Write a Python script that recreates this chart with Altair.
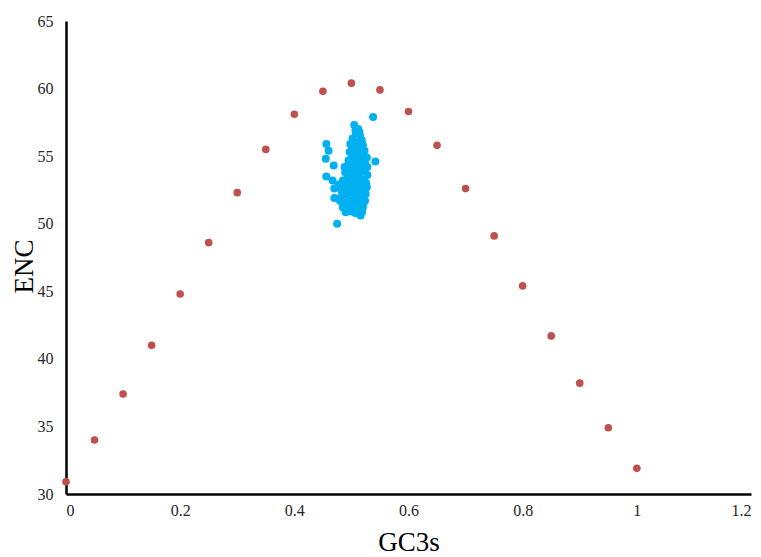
import altair as alt
import pandas as pd

# Expected ENC curve points (red)
gc3_expected = [0.0, 0.05, 0.1, 0.15, 0.2, 0.25, 0.3, 0.35, 0.4, 0.45, 0.5,
                0.55, 0.6, 0.65, 0.7, 0.75, 0.8, 0.85, 0.9, 0.95, 1.0]
enc_expected = [30.9, 34.0, 37.4, 41.0, 44.8, 48.6, 52.3, 55.5, 58.1, 59.8, 60.4,
                59.9, 58.3, 55.8, 52.6, 49.1, 45.4, 41.7, 38.2, 34.9, 31.9]

# Observed genes (blue)
gc3_observed = [0.505, 0.512, 0.508, 0.515, 0.502, 0.518, 0.510, 0.498, 0.520, 0.505,
                0.515, 0.523, 0.497, 0.510, 0.520, 0.527, 0.502, 0.495, 0.513, 0.524,
                0.505, 0.528, 0.493, 0.516, 0.500, 0.522, 0.489, 0.510, 0.528, 0.495,
                0.515, 0.503, 0.485, 0.523, 0.490, 0.510, 0.500, 0.527, 0.482, 0.517,
                0.493, 0.505, 0.525, 0.485, 0.512, 0.497, 0.520, 0.480, 0.505, 0.490,
                0.515, 0.498, 0.485, 0.508, 0.520, 0.493, 0.500, 0.512, 0.490, 0.538,
                0.542, 0.456, 0.460, 0.455, 0.469, 0.488, 0.456, 0.467, 0.470, 0.470,
                0.516, 0.475, 0.478, 0.483, 0.488, 0.495, 0.503, 0.509, 0.518, 0.524,
                0.507, 0.514, 0.519, 0.501, 0.511, 0.517, 0.506, 0.499, 0.513, 0.521,
                0.496, 0.508, 0.504, 0.514, 0.492, 0.487, 0.495, 0.502, 0.509, 0.518,
                0.483, 0.491, 0.499, 0.506, 0.513, 0.521, 0.487, 0.494, 0.502, 0.511,
                0.496, 0.504, 0.515, 0.480, 0.488, 0.498, 0.507, 0.519, 0.526, 0.509]
enc_observed = [57.3, 57.0, 56.7, 56.5, 56.3, 56.2, 56.0, 55.9, 55.8, 55.6,
                55.5, 55.4, 55.3, 55.2, 55.0, 54.9, 54.9, 54.7, 54.7, 54.5,
                54.4, 54.2, 54.3, 54.2, 54.0, 53.9, 53.8, 53.8, 53.6, 53.5,
                53.4, 53.3, 53.2, 53.2, 52.9, 52.9, 52.7, 52.7, 52.6, 52.5,
                52.4, 52.3, 52.2, 52.1, 52.0, 51.9, 51.8, 51.7, 51.6, 51.5,
                51.4, 51.3, 51.2, 51.1, 51.2, 51.0, 50.9, 50.9, 50.85, 57.9,
                54.6, 55.9, 55.4, 54.8, 54.3, 54.2, 53.5, 53.2, 52.6, 51.9,
                50.6, 50.0, 52.9, 51.6, 53.0, 52.6, 51.4, 53.1, 53.0, 51.7,
                56.9, 56.8, 55.9, 55.7, 55.7, 55.1, 55.0, 54.5, 54.4, 54.1,
                54.0, 53.9, 53.6, 53.7, 53.3, 53.0, 53.1, 52.9, 52.4, 52.3,
                52.4, 52.2, 52.0, 51.9, 51.7, 51.5, 51.5, 51.6, 51.4, 51.3,
                51.1, 51.0, 51.0, 51.9, 51.3, 51.2, 50.8, 50.9, 53.0, 53.5]

x_ticks = [0, 0.2, 0.4, 0.6, 0.8, 1, 1.2]
y_ticks = [30, 35, 40, 45, 50, 55, 60, 65]

df_exp = pd.DataFrame({"GC3s": gc3_expected, "ENC": enc_expected})
df_obs = pd.DataFrame({"GC3s": gc3_observed, "ENC": enc_observed})

x_enc = alt.X("GC3s:Q",
              scale=alt.Scale(domain=[0, 1.2], nice=False, zero=False),
              axis=alt.Axis(values=x_ticks, labelExpr="'' + datum.value",
                            title="GC3s", labelPadding=8, titleY=56,
                            titleBaseline="alphabetic"))
y_enc = alt.Y("ENC:Q",
              scale=alt.Scale(domain=[30, 65], nice=False, zero=False),
              axis=alt.Axis(values=y_ticks, title="ENC", labelPadding=13,
                            titleX=-34, titleY=245, titleBaseline="alphabetic"))

red = alt.Chart(df_exp).mark_circle(size=58, opacity=1, color="#C0504D").encode(
    x=x_enc, y=y_enc)
blue = alt.Chart(df_obs).mark_circle(size=64, opacity=1, color="#00B0F0").encode(
    x="GC3s:Q", y="ENC:Q")

chart = alt.layer(blue, red).properties(
    width=685, height=473,
    autosize=alt.AutoSizeParams(type="none"),
    padding={"left": 58, "top": 13, "right": 2, "bottom": 72},
).configure_view(stroke=None).configure_axis(
    grid=False, ticks=False, domainColor="black", domainWidth=2.5,
    labelFont="Liberation Serif", labelFontSize=16, labelColor="#262626",
    titleFont="Liberation Serif", titleFontSize=27, titleFontWeight="normal",
    titleColor="black",
)

chart.save("out.html", embed_options={"renderer": "svg", "actions": False})
